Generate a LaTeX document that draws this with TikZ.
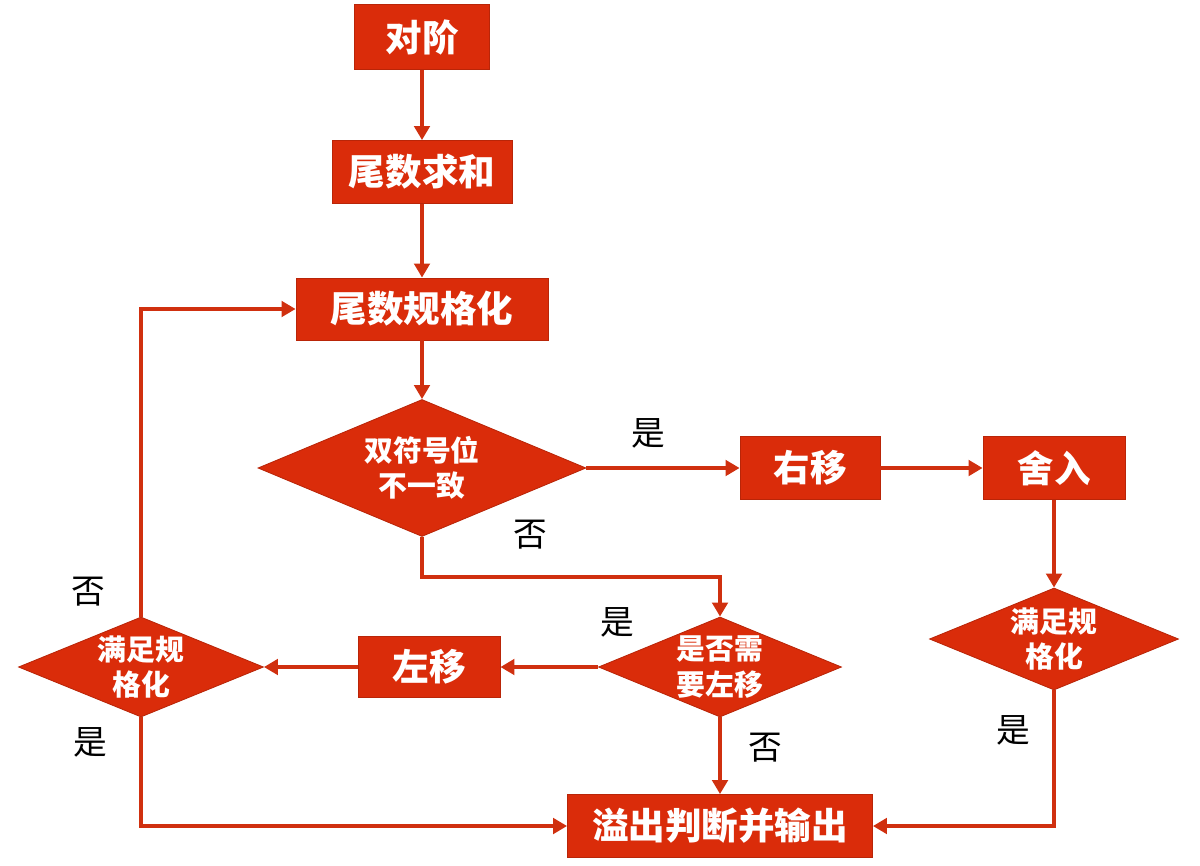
\documentclass[tikz,border=0pt]{standalone}
\usepackage{fontspec}
\newfontfamily\cjk{Noto Sans CJK SC}
\usetikzlibrary{shapes.geometric,arrows.meta,calc}
\definecolor{rd}{HTML}{DA2C0A}
\definecolor{rdline}{HTML}{D0300F}
\tikzset{
  box/.style={rectangle,fill=rd,draw=rd!85!black,line width=0.6pt,inner sep=0pt,text=white,font=\cjk\bfseries\fontsize{26}{30}\selectfont,align=center},
  dia/.style={diamond,fill=rd,draw=rd!85!black,line width=0.6pt,inner sep=0pt},
  diatext/.style={text=white,font=\cjk\bfseries\fontsize{20.5}{25}\selectfont,align=center,inner sep=0pt},
  arr/.style={draw=rdline,line width=2.8pt,-{Triangle[length=10pt,width=11pt]}},
  lbl/.style={font=\cjk\fontsize{24}{28}\selectfont,text=black,inner sep=0pt}
}
\begin{document}
\begin{tikzpicture}
\useasboundingbox (0,0) rectangle (30,-21.625);
\node[box,minimum width=3.375cm,minimum height=1.625cm] (duijie) at (10.55,-0.925) {对阶};
\node[box,minimum width=4.5cm,minimum height=1.575cm] (qiuhe) at (10.55,-4.3) {尾数求和};
\node[box,minimum width=6.3cm,minimum height=1.55cm] (guige) at (10.55,-7.725) {尾数规格化};
\node[dia,minimum width=8.2cm,minimum height=3.425cm,label={[diatext]center:{双符号位\\不一致}}] (d1) at (10.55,-11.7) {};
\node[box,minimum width=3.5cm,minimum height=1.575cm] (youyi) at (20.25,-11.7) {右移};
\node[box,minimum width=3.55cm,minimum height=1.575cm] (sheru) at (26.35,-11.7) {舍入};
\node[dia,minimum width=6.225cm,minimum height=2.55cm,label={[diatext]center:{满足规\\格化}}] (d3) at (26.35,-15.975) {};
\node[dia,minimum width=6.075cm,minimum height=2.5cm,label={[diatext]center:{是否需\\要左移}}] (d2) at (18.0,-16.675) {};
\node[box,minimum width=3.55cm,minimum height=1.525cm] (zuoyi) at (10.725,-16.675) {左移};
\node[dia,minimum width=6.125cm,minimum height=2.5cm,label={[diatext]center:{满足规\\格化}}] (d4) at (3.525,-16.675) {};
\node[box,minimum width=7.625cm,minimum height=1.575cm] (yichu) at (18.0,-20.65) {溢出判断并输出};
\coordinate (k1) at (10.55,-14.425);

\draw[arr] (duijie) -- (qiuhe);
\draw[arr] (qiuhe) -- (guige);
\draw[arr] (guige) -- (d1);
\draw[arr] (d1.east) -- (youyi.west);
\draw[arr] (youyi) -- (sheru);
\draw[arr] (sheru) -- (d3);
\draw[arr] (d3.south) |- (yichu.east);
\draw[arr] (d1.south) -- (k1) -| (d2.north);
\draw[arr] (d2.west) -- (zuoyi.east);
\draw[arr] (zuoyi.west) -- (d4.east);
\draw[arr] (d2.south) -- (yichu.north);
\draw[arr] (d4.north) |- (guige.west);
\draw[arr] (d4.south) |- (yichu.west);

\node[lbl] (l1) at (16.2,-10.825) {是};
\node[lbl] (l2) at (13.25,-13.375) {否};
\node[lbl] (l3) at (15.425,-15.55) {是};
\node[lbl] (l4) at (19.125,-18.7) {否};
\node[lbl] (l5) at (2.2,-14.8) {否};
\node[lbl] (l6) at (2.25,-18.55) {是};
\node[lbl] (l7) at (25.325,-18.25) {是};
\end{tikzpicture}
\end{document}
